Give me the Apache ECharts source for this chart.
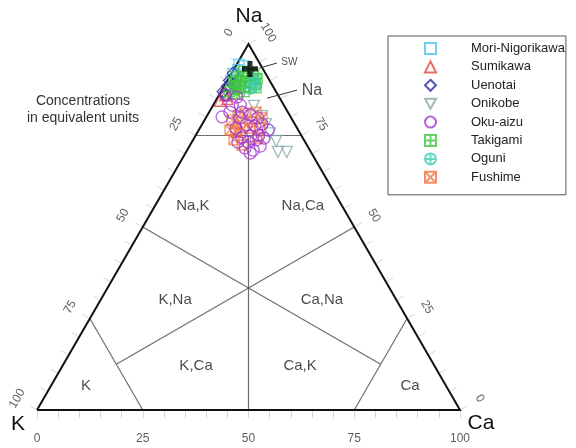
<!DOCTYPE html>
<html>
<head>
<meta charset="utf-8">
<script src="https://cdn.jsdelivr.net/npm/echarts@6/dist/echarts.min.js"></script>
<style>
  html, body { margin: 0; padding: 0; background: #fff; }
  #chart { width: 576px; height: 448px; }
</style>
</head>
<body>
<div id="chart"></div>
<script>
// samples as [Na, K, Ca] in % of the cation sum (equivalents)
const moriNigorikawa = [[94.5, 5.0, 0.5], [93, 6, 1], [92, 7.7, 0.3], [91, 7.5, 1.5], [94, 4, 2], [90, 9.2, 0.8], [92.5, 5, 2.5]];
const sumikawa = [[86, 12.5, 1.5], [85, 12.5, 2.5], [84.5, 14.5, 1], [86.5, 10, 3.5], [78.5, 13.5, 8], [76, 14.5, 9.5]];
const uenotai = [[92, 7.6, 0.4], [90, 9.5, 0.5], [88.5, 10.7, 0.8], [87, 12.5, 0.5], [86, 12.5, 1.5], [89, 9, 2]];
const onikobe = [[83.1, 7.2, 9.7], [80.3, 6.7, 13.0], [78.1, 6.8, 15.1], [75.6, 7.1, 17.3], [73.5, 6.7, 19.8], [70.5, 7.8, 21.7], [70.5, 5.7, 23.8]];
const okuAizu = [
    [86.1, 12.5, 1.4], [85.5, 10.0, 4.5], [83.3, 12.2, 4.5], [83.3, 10.3, 6.4], [80.1, 16.2, 3.7], [81.4, 13.7, 4.9], [81.4, 10.8, 7.8],
    [79.8, 12.1, 8.1], [80.6, 9.3, 10.1], [79.8, 7.9, 12.3], [77.0, 14.5, 8.5], [77.9, 11.6, 10.5], [77.6, 9.7, 12.7], [78.1, 7.8, 14.1],
    [74.5, 14.3, 11.2], [74.9, 12.0, 13.1], [75.1, 10.0, 14.9], [73.2, 15.9, 10.9], [73.2, 13.5, 13.3], [73.8, 11.3, 14.9], [74.3, 9.2, 16.5],
    [71.6, 15.0, 13.4], [71.0, 13.4, 15.6], [72.1, 11.2, 16.7], [70.2, 14.5, 15.3], [76.5, 7.1, 16.4],
];
const takigami = [
    [92.5, 5.0, 2.5], [92, 4, 4], [91.5, 3, 5.5], [91, 6, 3], [90.5, 3, 6.5], [90, 8, 2], [90, 5.5, 4.5], [89.5, 5, 5.5],
    [89, 7.5, 3.5], [89, 4, 7], [88.5, 9, 2.5], [88.5, 6.5, 5], [88, 6, 6], [88, 8, 4], [87.5, 9.5, 3], [87, 7.5, 5.5],
    [91, 7.5, 1.5], [90.5, 2.7, 6.8], [89.5, 8.7, 1.8], [92, 3, 5], [88, 4.2, 7.8], [87, 11, 2], [86.5, 9.5, 4],
];
const oguni = [[89.5, 4, 6.5], [88.5, 4, 7.5], [90.5, 3.5, 6], [87.8, 5.7, 6.5]];
const fushime = [
    [79.2, 14.3, 6.5], [80.3, 12.3, 7.4], [81.1, 10.3, 8.6], [81.4, 7.5, 11.1], [79.8, 6.9, 13.3], [76.5, 16.1, 7.4], [76.0, 15.0, 9.0],
    [77.0, 12.8, 10.2], [78.7, 9.8, 11.5], [77.0, 8.8, 14.2], [73.8, 16.5, 9.7], [72.4, 15.3, 12.3], [74.3, 10.6, 15.1], [77.0, 11.2, 11.8],
];
const seawater = [93.2, 3.05, 3.75];

const groups = [
    ['Mori-Nigorikawa', moriNigorikawa],
    ['Sumikawa', sumikawa],
    ['Uenotai', uenotai],
    ['Onikobe', onikobe],
    ['Oku-aizu', okuAizu],
    ['Takigami', takigami],
    ['Oguni', oguni],
    ['Fushime', fushime],
];

// axis ticks (every 5 %) and labelled values
const tickValues = [0, 5, 10, 15, 20, 25, 30, 35, 40, 45, 50, 55, 60, 65, 70, 75, 80, 85, 90, 95, 100];
const tickLabels = [0, 25, 50, 75, 100];

// classification boundaries, ternary end points [Na, K, Ca]
const C = 100 / 3;
const boundaries = [
    [[75, 25, 0], [75, 0, 25]],
    [[25, 75, 0], [0, 75, 25]],
    [[25, 0, 75], [0, 25, 75]],
    [[75, 12.5, 12.5], [0, 50, 50]],
    [[50, 50, 0], [C, C, C]],
    [[50, 0, 50], [C, C, C]],
    [[C, C, C], [12.5, 75, 12.5]],
    [[C, C, C], [12.5, 12.5, 75]],
];
const regionLabels = [
    ['Na,K', [55.7, 35.3, 9.0]], ['Na,Ca', [55.7, 9.3, 35.0]],
    ['K,Na', [30.1, 52.3, 17.6]], ['Ca,Na', [30.1, 17.6, 52.3]],
    ['K,Ca', [12.0, 56.4, 31.6]], ['Ca,K', [12.0, 31.8, 56.2]],
    ['K', [6.6, 85.1, 8.3]], ['Ca', [6.6, 8.5, 84.9]],
];

const FONT = 'Arial, "Liberation Sans", sans-serif';
const S3 = Math.sqrt(3) / 2;

// [Na, K, Ca] -> plane coords, K at origin, Ca at (100, 0)
function tern([na, k, ca]) {
    const t = na + k + ca;
    return [100 * (ca + na / 2) / t, 100 * S3 * na / t];
}
function shift(p, n, d) {
    return [p[0] + n[0] * d, p[1] + n[1] * d];
}

const sides = {
    left:   { at: v => tern([100 - v, v, 0]), normal: [-S3, 0.5], rotate: 60 },
    right:  { at: v => tern([v, 0, 100 - v]), normal: [S3, 0.5], rotate: -60 },
    bottom: { at: v => tern([0, 100 - v, v]), normal: [0, -1], rotate: 0 },
};

const styles = {
    'Mori-Nigorikawa': { color: '#4cc4ea', symbol: 'rect', size: 10 },
    'Sumikawa':        { color: '#e2433c', symbol: 'triangle', size: 11 },
    'Uenotai':         { color: '#2b2ba3', symbol: 'diamond', size: 12 },
    'Onikobe':         { color: '#84aaab', symbol: 'path://M0,0H10L5,9Z', size: 11 },
    'Oku-aizu':        { color: '#a23ad2', symbol: 'circle', size: 12, z: 6 },
    'Takigami':        { color: '#3ec43e', symbol: 'path://M0,0H10V10H0Z M5,0V10 M0,5H10', size: 10 },
    'Oguni':           { color: '#3ccdb2', symbol: 'path://M0,5A5,5,0,1,0,10,5A5,5,0,1,0,0,5Z M5,0V10 M0,5H10', size: 11 },
    'Fushime':         { color: '#f2743f', symbol: 'path://M0,0H10V10H0Z M0,0L10,10 M10,0L0,10', size: 10 },
};

const series = [];

series.push({
    type: 'lines', coordinateSystem: 'cartesian2d', silent: true, clip: false, z: 2,
    lineStyle: { color: '#6e6e6e', width: 1.2, opacity: 1 },
    data: boundaries.map(([a, b]) => ({ coords: [tern(a), tern(b)] })),
});
series.push({
    type: 'lines', coordinateSystem: 'cartesian2d', silent: true, clip: false, z: 3, polyline: true,
    lineStyle: { color: '#111', width: 2, opacity: 1, join: 'miter' },
    data: [{ coords: [tern([0, 100, 0]), tern([100, 0, 0]), tern([0, 0, 100]), tern([0, 100, 0])] }],
});

for (const side of Object.values(sides)) {
    series.push({
        type: 'lines', coordinateSystem: 'cartesian2d', silent: true, clip: false, z: 1,
        lineStyle: { color: '#d6d6d6', width: 1, opacity: 1 },
        data: tickValues.map(v => {
            const p = side.at(v);
            return { coords: [shift(p, side.normal, 0.3), shift(p, side.normal, 2.0)] };
        }),
    });
    const off = side.rotate === 0 ? 6.7 : 5.4;
    series.push({
        type: 'scatter', silent: true, clip: false, symbolSize: 1,
        itemStyle: { color: 'rgba(0,0,0,0)' },
        label: { show: true, position: 'inside', rotate: side.rotate, formatter: p => p.name,
                 fontSize: 12, fontFamily: FONT, color: '#333' },
        data: tickLabels.map(v => ({ name: String(v), value: shift(side.at(v), side.normal, off) })),
    });
}

series.push({
    type: 'scatter', silent: true, clip: false, symbolSize: 1,
    itemStyle: { color: 'rgba(0,0,0,0)' },
    label: { show: true, position: 'inside', formatter: p => p.name, fontSize: 15, fontFamily: FONT, color: '#1a1a1a' },
    data: regionLabels.map(([t, p]) => ({ name: t, value: tern(p) })),
});

for (const [name, rows] of groups) {
    const st = styles[name];
    series.push({
        name, type: 'scatter', clip: false, z: st.z || 5,
        symbol: st.symbol, symbolSize: st.size,
        itemStyle: { color: 'rgba(0,0,0,0)', borderColor: st.color, borderWidth: 1.3 },
        data: rows.map(tern),
    });
}

// seawater and its callouts
series.push({
    type: 'scatter', silent: true, clip: false, z: 8,
    symbol: 'path://M3.4,0H6.6V3.4H10V6.6H6.6V10H3.4V6.6H0V3.4H3.4Z', symbolSize: 16,
    itemStyle: { color: '#000' },
    data: [tern(seawater)],
});
series.push({
    type: 'lines', coordinateSystem: 'cartesian2d', silent: true, clip: false, z: 8,
    lineStyle: { color: '#333', width: 1, opacity: 1 },
    data: [
        { coords: [tern([93.4, 0.7, 5.9]), tern([94.8, -4.1, 9.3])] },
        { coords: [tern([85.2, 3.0, 11.8]), tern([87.4, -5.2, 17.8])] },
    ],
});
series.push({
    type: 'scatter', silent: true, clip: false, symbolSize: 1,
    itemStyle: { color: 'rgba(0,0,0,0)' },
    label: { show: true, position: 'inside', formatter: p => p.name, fontFamily: FONT, color: '#222' },
    data: [
        { name: 'SW', value: tern([95.1, -7.2, 12.1]), label: { fontSize: 10 } },
        { name: 'Na', value: tern([87.4, -8.7, 21.3]), label: { fontSize: 16 } },
    ],
});

const chart = echarts.init(document.getElementById('chart'));
chart.setOption({
    animation: false,
    backgroundColor: '#fff',
    grid: { left: 37, top: 44, width: 423, height: 366, containLabel: false, outerBoundsMode: 'none' },
    xAxis: { type: 'value', min: 0, max: 100, show: false },
    yAxis: { type: 'value', min: 0, max: 100 * S3, show: false },
    legend: {
        orient: 'vertical', left: 388, top: 36,
        padding: [6, 1, 11, 36],
        itemWidth: 11, itemHeight: 11, itemGap: 5.4,
        borderColor: '#555', borderWidth: 1,
        selectedMode: false,
        textStyle: { fontSize: 13, lineHeight: 12, fontFamily: FONT, color: '#222', padding: [0, 0, 0, 30] },
        data: groups.map(g => g[0]),
    },
    graphic: [
        { type: 'text', x: 249, y: 16, style: { text: 'Na', fontSize: 21, fontFamily: FONT, fill: '#111', textAlign: 'center', textVerticalAlign: 'middle' } },
        { type: 'text', x: 18, y: 424, style: { text: 'K', fontSize: 21, fontFamily: FONT, fill: '#111', textAlign: 'center', textVerticalAlign: 'middle' } },
        { type: 'text', x: 481, y: 423, style: { text: 'Ca', fontSize: 21, fontFamily: FONT, fill: '#111', textAlign: 'center', textVerticalAlign: 'middle' } },
        { type: 'text', x: 83, y: 110, style: { text: 'Concentrations\nin equivalent units', fontSize: 14, lineHeight: 17, fontFamily: FONT, fill: '#333', textAlign: 'center', textVerticalAlign: 'middle' } },
    ],
    series,
});
</script>
</body>
</html>
